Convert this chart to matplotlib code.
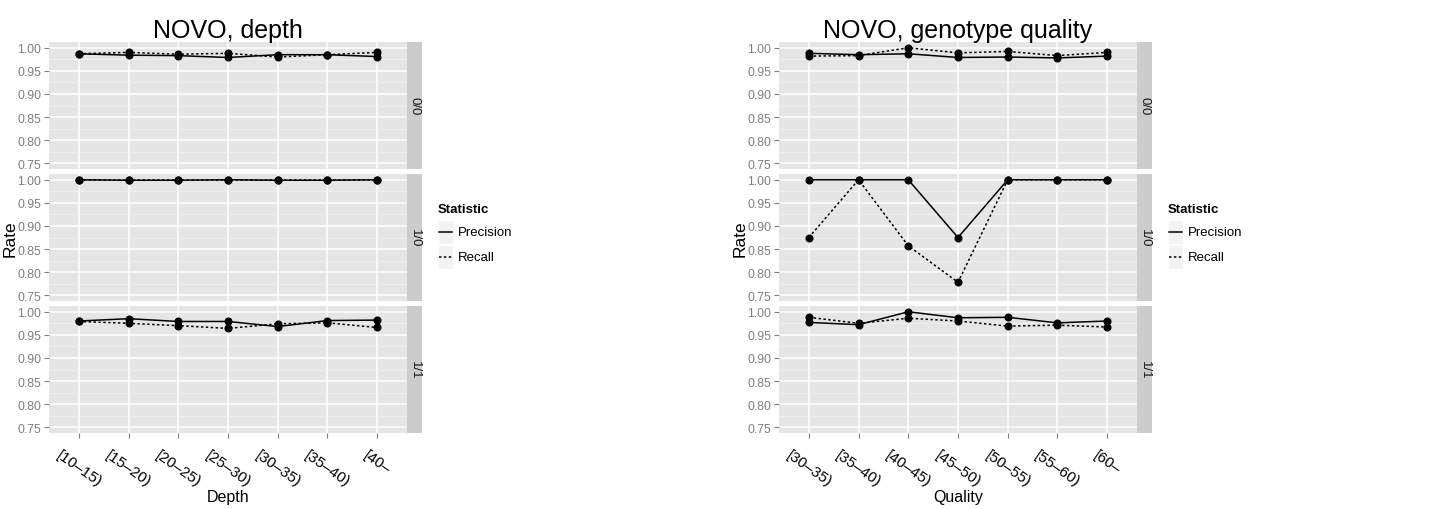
import matplotlib
matplotlib.use('Agg')
import matplotlib.pyplot as plt
from matplotlib.lines import Line2D
from matplotlib.patches import Rectangle

plt.rcParams['font.family'] = ['Liberation Sans', 'DejaVu Sans']

facets = ['0/0', '1/0', '1/1']

depth_labels = ['[10–15)', '[15–20)', '[20–25)', '[25–30)', '[30–35)', '[35–40)', '[40–']
depth_precision = {
    '0/0': [0.987, 0.984, 0.983, 0.979, 0.985, 0.985, 0.981],
    '1/0': [1.000, 0.999, 0.999, 1.000, 0.999, 0.999, 1.000],
    '1/1': [0.980, 0.985, 0.979, 0.979, 0.968, 0.981, 0.982],
}
depth_recall = {
    '0/0': [0.987, 0.990, 0.986, 0.988, 0.980, 0.985, 0.990],
    '1/0': [1.000, 1.000, 1.000, 1.000, 1.000, 1.000, 1.000],
    '1/1': [0.979, 0.975, 0.970, 0.964, 0.974, 0.976, 0.966],
}

qual_labels = ['[30–35)', '[35–40)', '[40–45)', '[45–50)', '[50–55)', '[55–60)', '[60–']
qual_precision = {
    '0/0': [0.988, 0.985, 0.987, 0.979, 0.980, 0.978, 0.982],
    '1/0': [1.000, 1.000, 1.000, 0.875, 1.000, 1.000, 1.000],
    '1/1': [0.977, 0.972, 1.000, 0.987, 0.988, 0.976, 0.980],
}
qual_recall = {
    '0/0': [0.982, 0.983, 1.000, 0.989, 0.992, 0.983, 0.990],
    '1/0': [0.875, 1.000, 0.857, 0.778, 1.000, 1.000, 1.000],
    '1/1': [0.988, 0.975, 0.986, 0.980, 0.969, 0.971, 0.967],
}

W, H = 1432, 510
fig = plt.figure(figsize=(W / 100, H / 100), dpi=100)

def rect(x0, y0, w, h):
    return [x0 / W, 1 - (y0 + h) / H, w / W, h / H]

GREY_TXT = '#7F7F7F'
dots = (0, (1.6, 1.6))

plots = [
    (49, 'NOVO, depth', 'Depth', depth_labels, depth_precision, depth_recall),
    (779, 'NOVO, genotype quality', 'Quality', qual_labels, qual_precision, qual_recall),
]

tops = [43, 175, 307]
pw, ph, sw = 358, 127, 15
yticks = [0.75, 0.80, 0.85, 0.90, 0.95, 1.00]
yminor = [0.775, 0.825, 0.875, 0.925, 0.975]

for x0, title, xlabel, labels, prec, rec in plots:
    xs = list(range(1, len(labels) + 1))
    for i, f in enumerate(facets):
        ax = fig.add_axes(rect(x0, tops[i], pw, ph))
        ax.set_facecolor('#E5E5E5')
        for s in ax.spines.values():
            s.set_visible(False)
        ax.set_xlim(0.4, len(labels) + 0.6)
        ax.set_ylim(0.7375, 1.0125)
        ax.set_yticks(yticks)
        ax.set_yticklabels(['%.2f' % v for v in yticks])
        ax.set_yticks(yminor, minor=True)
        ax.set_xticks(xs)
        ax.grid(which='major', color='white', linewidth=1.1)
        ax.grid(which='minor', axis='y', color='#F2F2F2', linewidth=0.5)
        ax.set_axisbelow(True)
        ax.tick_params(axis='y', which='minor', length=0)
        ax.tick_params(which='major', length=3.5, color=GREY_TXT, width=0.8,
                       labelsize=8.8, labelcolor=GREY_TXT, pad=2)
        if i < 2:
            ax.tick_params(axis='x', length=0, labelbottom=False)
        else:
            ax.set_xticklabels(labels, rotation=-35, ha='center', va='top',
                               fontsize=11, color='black')
            ax.tick_params(axis='x', pad=7)
            ax.set_xlabel(xlabel, fontsize=11.5, labelpad=0)
        if i == 1:
            ax.set_ylabel('Rate', fontsize=12.5)
            ax.yaxis.set_label_coords(-31 / pw, 0.5)
        ax.plot(xs, prec[f], color='black', linewidth=1.1, linestyle='-',
                marker='o', markersize=4.8)
        ax.plot(xs, rec[f], color='black', linewidth=1.1, linestyle=dots,
                marker='o', markersize=4.8)
        if i == 0:
            ax.set_title(title, fontsize=18, pad=2)

        sax = fig.add_axes(rect(x0 + pw, tops[i], sw, ph))
        sax.set_facecolor('#CCCCCC')
        for s in sax.spines.values():
            s.set_visible(False)
        sax.set_xticks([])
        sax.set_yticks([])
        sax.text(0.5, 0.5, f, rotation=-90, ha='center', va='center',
                 fontsize=9.5, color='#1A1A1A', transform=sax.transAxes)

    # legend
    lx = x0 + pw + sw + 16
    styles = ['-', dots]
    fig.text(lx / W, 1 - 210 / H, 'Statistic', fontsize=9.5, fontweight='bold',
             ha='left', va='center')
    for k, name in enumerate(['Precision', 'Recall']):
        cy = 233 + k * 25
        fig.patches.append(Rectangle((lx / W, 1 - (cy + 12) / H), 15 / W, 24 / H,
                                     transform=fig.transFigure, facecolor='#F2F2F2',
                                     edgecolor='white', linewidth=1))
        fig.lines.append(Line2D([(lx + 1) / W, (lx + 14) / W], [1 - cy / H, 1 - cy / H],
                                transform=fig.transFigure, color='black',
                                linewidth=1.1, linestyle=styles[k]))
        fig.text((lx + 20) / W, 1 - cy / H, name, fontsize=9.5, ha='left', va='center')

fig.savefig('out.png', dpi=100)
